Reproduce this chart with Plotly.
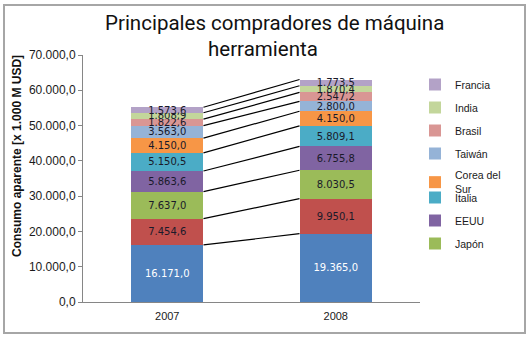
import numpy as np
import plotly.graph_objects as go

years = ["2007", "2008"]
series = ["China", "Alemania", "Japón", "EEUU", "Italia", "Corea del<br>Sur",
          "Taiwán", "Brasil", "India", "Francia"]
v2007 = [16171.0, 7454.6, 7637.0, 5863.6, 5150.5, 4150.0, 3563.0, 1822.6, 1808.9, 1573.6]
v2008 = [19365.0, 9950.1, 8030.5, 6755.8, 5809.1, 4150.0, 2800.0, 2547.2, 1870.4, 1773.5]
colors = ["#4F81BD", "#C0504D", "#9BBB59", "#8064A2", "#4BACC6", "#F79646",
          "#95B3D7", "#D99694", "#C3D69B", "#B3A2C7"]
in_legend = [False, False, True, True, True, True, True, True, True, True]
legend_id = ["legend", "legend", "legend2", "legend2", "legend2",
             "legend", "legend", "legend", "legend", "legend"]
label_colors = ["#FFFFFF"] + ["#1A1A2A"] * 9

BAR_W = 0.43
xpos = [0, 1]
n = len(series)

fig = go.Figure()
for i, name in enumerate(series):
    fig.add_trace(go.Bar(
        x=xpos, y=[v2007[i], v2008[i]], name=name, width=BAR_W,
        marker=dict(color=colors[i], line=dict(width=0)),
        text=[v2007[i], v2008[i]], texttemplate="%{y:,.1f}",
        textposition="inside", insidetextanchor="middle", textangle=0,
        constraintext="none",
        textfont=dict(family="DejaVu Sans", size=10, color=label_colors[i]),
        showlegend=in_legend[i], legend=legend_id[i],
        legendgroup="g%d" % i, legendrank=n - i,
        hoverinfo="skip"))

cum07 = np.cumsum(v2007)
cum08 = np.cumsum(v2008)
for i in range(n):
    fig.add_trace(go.Scatter(
        x=[xpos[0] + BAR_W / 2, xpos[1] - BAR_W / 2], y=[cum07[i], cum08[i]],
        mode="lines", line=dict(color="black", width=1.2),
        showlegend=False, hoverinfo="skip"))

L, R, T, B = 83, 110, 55, 37
W, H = 530, 339
pw, ph = W - L - R, H - T - B

def px_x(p):
    return (p - L) / pw

def px_y(p):
    return (H - B - p) / ph

legend_common = dict(xanchor="left", yanchor="top", traceorder="grouped",
                     tracegroupgap=4,
                     font=dict(family="Liberation Sans", size=10.5, color="#1A1A1A"),
                     bgcolor="rgba(0,0,0,0)", itemwidth=30)

fig.update_layout(
    width=W, height=H, margin=dict(l=L, r=R, t=T, b=B),
    paper_bgcolor="white", plot_bgcolor="white",
    barmode="stack", separators=",.",
    font=dict(family="Liberation Sans", color="#1A1A1A"),
    xaxis=dict(range=[-0.5, 1.5], tickvals=xpos, ticktext=years,
               showline=True, linecolor="#868686", linewidth=1,
               showgrid=False, zeroline=False, ticks="outside", ticklen=4,
               tickcolor="rgba(0,0,0,0)",
               tickfont=dict(family="Liberation Sans", size=11, color="#1A1A1A")),
    yaxis=dict(range=[0, 70000], dtick=10000, tickformat=",.1f",
               showline=True, linecolor="#868686", linewidth=1,
               showgrid=False, zeroline=False, ticks="outside", ticklen=4,
               tickcolor="#868686",
               tickfont=dict(family="Liberation Sans", size=12, color="#1A1A1A")),
    legend=dict(x=px_x(415), y=px_y(70), **legend_common),
    legend2=dict(x=px_x(415), y=px_y(183), **legend_common),
    showlegend=True,
)

fig.add_annotation(text="Principales compradores de máquina", xref="paper", yref="paper",
                   x=px_x(103), y=px_y(37), xanchor="left", yanchor="bottom",
                   showarrow=False, font=dict(family="Roboto", size=20.5, color="#111111"))
fig.add_annotation(text="herramienta", xref="paper", yref="paper",
                   x=px_x(263), y=px_y(63), xanchor="center", yanchor="bottom",
                   showarrow=False, font=dict(family="Roboto", size=20.5, color="#111111"))
fig.add_annotation(text="<b>Consumo aparente [x 1.000 M USD]</b>", xref="paper", yref="paper",
                   x=px_x(17), y=px_y(156), xanchor="center", yanchor="middle",
                   textangle=-90, showarrow=False,
                   font=dict(family="Liberation Sans", size=12, color="#111111"))

fig.add_shape(type="rect", xref="paper", yref="paper",
              x0=px_x(4), x1=px_x(525), y0=px_y(333), y1=px_y(5),
              line=dict(color="#A6A6A6", width=2), fillcolor="rgba(0,0,0,0)", layer="below")

fig.write_html("out.html")
